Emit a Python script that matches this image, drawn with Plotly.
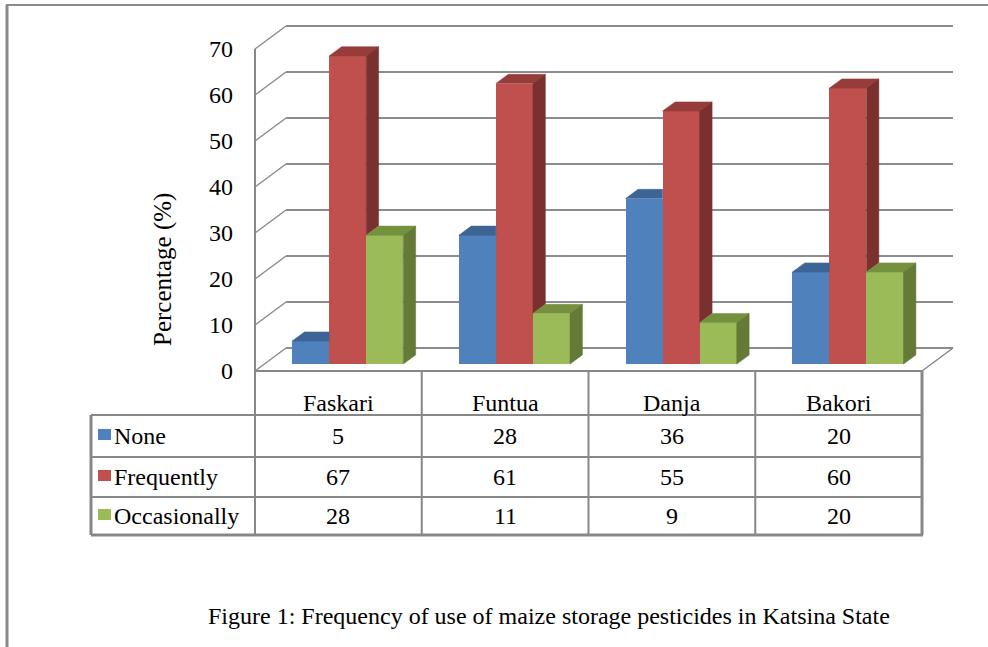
import plotly.graph_objects as go

# ---- data -------------------------------------------------------------
categories = ["Faskari", "Funtua", "Danja", "Bakori"]
series_names = ["None", "Frequently", "Occasionally"]
none_vals = [5, 28, 36, 20]
frequently_vals = [67, 61, 55, 60]
occasionally_vals = [28, 11, 9, 20]
y_ticks = [0, 10, 20, 30, 40, 50, 60, 70]
axis_title = "Percentage (%)"
caption = "Figure 1: Frequency of use of maize storage pesticides in Katsina State"

series_vals = [none_vals, frequently_vals, occasionally_vals]
front_colors = ["#4F81BD", "#C0504D", "#9BBB59"]
top_colors = ["#3C6494", "#963C3A", "#76913E"]
side_colors = ["#30527B", "#7A302E", "#647A36"]

# ---- pseudo-3D geometry -------------------------------------------------
W, H = 988, 647
CAT_PX = 166.75          # width of one category on the front plane (px)
X0_PX = 255              # left edge of the front plane (px)
VAL_PX = 4.6             # px per percentage point
Y0_PX = 371              # zero line of the front plane (px)
DEPTH_X = 31 / CAT_PX    # full wall-depth shift in x units
DEPTH_Y = 23 / VAL_PX    # full wall-depth shift in value units
BAR_FRONT = 0.30         # depth fraction of the bar fronts
BAR_BACK = 0.70          # depth fraction of the bar backs
GAP = 1.5                # gap width as a multiple of bar width
bar_w = 1 / (3 + GAP)
n_cat = len(categories)

x_range = [-X0_PX / CAT_PX, (W - X0_PX) / CAT_PX]
y_range = [(Y0_PX - H) / VAL_PX, Y0_PX / VAL_PX]

FONT = "Liberation Serif"
GRID = "#8C8C8C"
EDGE = "#878787"


def py(px):
    """pixel row -> paper y"""
    return 1 - px / H


def pxx(px):
    """pixel column -> paper x"""
    return px / W


fig = go.Figure()

base = BAR_FRONT * DEPTH_Y
ddx = (BAR_BACK - BAR_FRONT) * DEPTH_X
ddy = (BAR_BACK - BAR_FRONT) * DEPTH_Y


def bar_center(i, s):
    return i + 0.5 + (s - 1) * bar_w + BAR_FRONT * DEPTH_X


# front faces of the columns
for s, name in enumerate(series_names):
    fig.add_trace(go.Bar(
        x=[bar_center(i, s) for i in range(n_cat)],
        y=series_vals[s],
        base=[base] * n_cat,
        width=bar_w,
        name=name,
        marker=dict(color=front_colors[s], line=dict(width=0)),
        showlegend=False,
        hoverinfo="skip",
    ))

# top and side faces
for i in range(n_cat):
    for s in range(3):
        xl = bar_center(i, s) - bar_w / 2
        xr = xl + bar_w
        t = base + series_vals[s][i]
        nxt = base + series_vals[s + 1][i] if s < 2 else None
        # top face (its back-right corner is hidden by a taller neighbour)
        if nxt is not None and nxt > t:
            tx = [xl, xr, xr, xl + ddx, xl]
        else:
            tx = [xl, xr, xr + ddx, xl + ddx, xl]
        ty = [t, t, t + ddy, t + ddy, t]
        fig.add_trace(go.Scatter(
            x=tx, y=ty, fill="toself", mode="lines",
            fillcolor=top_colors[s], line=dict(color=top_colors[s], width=0.5),
            showlegend=False, hoverinfo="skip"))
        # side face, visible only above the neighbour on the right
        if nxt is None:
            lo = base
        elif nxt < t:
            lo = nxt
        else:
            continue
        fig.add_trace(go.Scatter(
            x=[xr, xr, xr + ddx, xr + ddx, xr],
            y=[lo, t, t + ddy, lo + ddy, lo],
            fill="toself", mode="lines",
            fillcolor=side_colors[s], line=dict(color=side_colors[s], width=0.5),
            showlegend=False, hoverinfo="skip"))

shapes = []

# back-wall gridlines and left-wall diagonals
for v in y_ticks:
    shapes.append(dict(type="line", xref="x", yref="y", layer="below",
                       x0=DEPTH_X, y0=v + DEPTH_Y, x1=n_cat + DEPTH_X, y1=v + DEPTH_Y,
                       line=dict(color=GRID, width=2)))
    shapes.append(dict(type="line", xref="x", yref="y", layer="below",
                       x0=0, y0=v, x1=DEPTH_X, y1=v + DEPTH_Y,
                       line=dict(color=GRID, width=1.5)))

# front vertical axis, floor front edge and floor right edge
shapes.append(dict(type="line", xref="x", yref="y", layer="below",
                   x0=0, y0=0, x1=0, y1=y_ticks[-1], line=dict(color=EDGE, width=2)))
shapes.append(dict(type="line", xref="x", yref="y", layer="below",
                   x0=0, y0=0, x1=n_cat, y1=0, line=dict(color=EDGE, width=2)))
shapes.append(dict(type="line", xref="x", yref="y", layer="below",
                   x0=n_cat, y0=0, x1=n_cat + DEPTH_X, y1=DEPTH_Y,
                   line=dict(color=EDGE, width=1.5)))

# ---- data table ------------------------------------------------------
ROW_PX = [Y0_PX, 415, 457, 497, 535]   # header top, row boundaries, bottom
LEFT_PX = 91
for k in range(n_cat + 1):
    shapes.append(dict(type="line", xref="x", yref="paper",
                       x0=k, x1=k, y0=py(ROW_PX[0]), y1=py(ROW_PX[-1]),
                       line=dict(color=EDGE, width=2 if k < n_cat else 3)))
for r in range(1, len(ROW_PX)):
    shapes.append(dict(type="line", xref="paper", yref="paper",
                       x0=pxx(LEFT_PX), x1=pxx(X0_PX + n_cat * CAT_PX + 1),
                       y0=py(ROW_PX[r]), y1=py(ROW_PX[r]),
                       line=dict(color=EDGE, width=2 if r < len(ROW_PX) - 1 else 3)))
shapes.append(dict(type="line", xref="paper", yref="paper",
                   x0=pxx(LEFT_PX), x1=pxx(LEFT_PX), y0=py(ROW_PX[1]), y1=py(ROW_PX[-1]),
                   line=dict(color=EDGE, width=3)))

annotations = []
for i, cat in enumerate(categories):
    annotations.append(dict(x=i + 0.5, y=py(403), xref="x", yref="paper",
                            xanchor="center", yanchor="middle",
                            text=cat, showarrow=False,
                            font=dict(family=FONT, size=24, color="black")))
for s, name in enumerate(series_names):
    yc = (ROW_PX[s + 1] + ROW_PX[s + 2]) / 2
    shapes.append(dict(type="rect", xref="paper", yref="paper",
                       x0=pxx(98), x1=pxx(111), y0=py(yc - 7), y1=py(yc + 4),
                       fillcolor=front_colors[s], line=dict(width=0)))
    annotations.append(dict(x=pxx(112), y=py(yc), xref="paper", yref="paper",
                            xanchor="left", yanchor="middle",
                            text=name, showarrow=False,
                            font=dict(family=FONT, size=24, color="black")))
    for i in range(n_cat):
        annotations.append(dict(x=i + 0.5, y=py(yc), xref="x", yref="paper",
                                xanchor="center", yanchor="middle",
                                text=str(series_vals[s][i]), showarrow=False,
                                font=dict(family=FONT, size=24, color="black")))

# axis title
annotations.append(dict(x=pxx(163), y=py(270), xref="paper", yref="paper",
                        xanchor="center", yanchor="middle",
                        text=axis_title, textangle=-90, showarrow=False,
                        font=dict(family=FONT, size=25, color="black")))
# caption
annotations.append(dict(x=pxx(549), y=py(616), xref="paper", yref="paper",
                        xanchor="center", yanchor="middle",
                        text=caption, showarrow=False,
                        font=dict(family=FONT, size=24, color="black")))

# outer frame
shapes.append(dict(type="line", xref="paper", yref="paper",
                   x0=pxx(6), x1=1, y0=py(5), y1=py(5),
                   line=dict(color="#8A8A8A", width=2)))
shapes.append(dict(type="line", xref="paper", yref="paper",
                   x0=pxx(7), x1=pxx(7), y0=py(5), y1=0,
                   line=dict(color="#8A8A8A", width=3)))

fig.update_layout(
    width=W, height=H,
    margin=dict(l=0, r=0, t=0, b=0),
    paper_bgcolor="white", plot_bgcolor="white",
    barmode="overlay", bargap=0,
    xaxis=dict(range=x_range, domain=[0, 1], visible=False, fixedrange=True),
    yaxis=dict(range=y_range, domain=[0, 1], anchor="free", position=X0_PX / W,
               tickvals=y_ticks, ticktext=[str(v) for v in y_ticks],
               ticks="", showline=False, showgrid=False, zeroline=False,
               ticklabelstandoff=22,
               tickfont=dict(family=FONT, size=24, color="black"), fixedrange=True),
    shapes=shapes,
    annotations=annotations,
    showlegend=False,
)

fig.write_html("out.html")
